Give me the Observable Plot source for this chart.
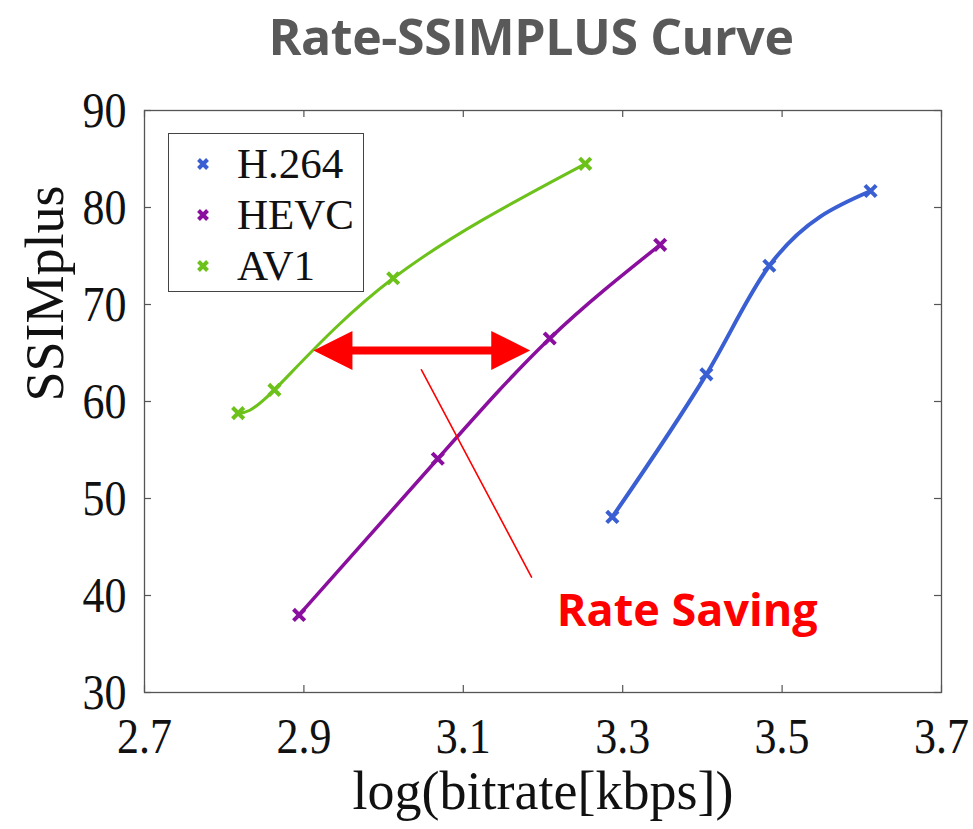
<!DOCTYPE html>
<html>
<head>
<meta charset="utf-8">
<script src="https://cdn.jsdelivr.net/npm/d3@7"></script>
<script src="https://cdn.jsdelivr.net/npm/@observablehq/plot@0.6"></script>
<style>
  body { margin: 0; background: #fff; width: 973px; height: 829px; overflow: hidden; position: relative; }
  #title { height: 75px; line-height: 72px; padding-left: 89px; text-align: center; letter-spacing: -0.4px;
           font-family: "Open Sans", sans-serif; font-weight: 700; font-size: 50px; color: #595959; }
  #legend { position: absolute; left: 168px; top: 133px; width: 196px; height: 159px; box-sizing: border-box;
            border: 1.3px solid #444; background: #fff; padding-top: 4px; }
  .row { position: relative; height: 51px; line-height: 51px; font-family: "Liberation Serif", serif;
         font-size: 43px; color: #111; }
  .row svg { position: absolute; left: 26px; top: 18px; }
  .row span { position: absolute; left: 68px; top: 0; }
</style>
</head>
<body>
<div id="title">Rate-SSIMPLUS Curve</div>
<div id="chart"></div>
<div id="legend"></div>
<script>
// ---- data ----
const codecs = ["H.264", "HEVC", "AV1"];
const codecColors = ["#3a5fd3", "#8a0f9e", "#6cc21a"];
const h264Rate = [3.287, 3.405, 3.484, 3.611];
const h264Ssim = [48.1, 62.8, 74.0, 81.7];
const hevcRate = [2.894, 3.068, 3.2085, 3.347];
const hevcSsim = [38.0, 54.1, 66.5, 76.15];
const av1Rate = [2.8175, 2.863, 3.012, 3.253];
const av1Ssim = [58.8, 61.2, 72.7, 84.5];
const xTicks = [2.7, 2.9, 3.1, 3.3, 3.5, 3.7];
const yTicks = [30, 40, 50, 60, 70, 80, 90];
const xLabel = "log(bitrate[kbps])";
const yLabel = "SSIMplus";
// annotation: double arrow between AV1 and HEVC at equal quality
const arrowLevel = 65.26;
const arrowEnds = [2.912, 3.184];
const pointerX = [3.0475, 3.1856];
const pointerY = [63.27, 41.9];
const noteText = "Rate Saving";
const notePos = [3.381, 38.3];

const rates = [h264Rate, hevcRate, av1Rate];
const ssims = [h264Ssim, hevcSsim, av1Ssim];
const widths = [4, 3.5, 3];
const curves = ["monotone-x", "natural", "natural"];
const series = codecs.flatMap((c, i) => rates[i].map((r, j) => ({codec: c, rate: r, ssim: ssims[i][j]})));

const W = 973, H = 754, mt = 35, mb = 137, ml = 144, mr = 32;
const fw = W - ml - mr, fh = H - mt - mb;
const red = "#ff0000", frameColor = "#555";

const leftHead = {draw(ctx) { ctx.moveTo(0, 0); ctx.lineTo(39, -19.5); ctx.lineTo(39, 19.5); ctx.closePath(); }};
const rightHead = {draw(ctx) { ctx.moveTo(0, 0); ctx.lineTo(-39, -19.5); ctx.lineTo(-39, 19.5); ctx.closePath(); }};

const chart = Plot.plot({
  width: W, height: H,
  marginTop: mt, marginBottom: mb, marginLeft: ml, marginRight: mr,
  style: {fontFamily: "Liberation Serif, serif", background: "white", color: "#111"},
  x: {domain: [2.7, 3.7]},
  y: {domain: [30, 90]},
  color: {domain: codecs, range: codecColors},
  marks: [
    Plot.frame({stroke: frameColor, strokeWidth: 1.3}),
    Plot.tickX(xTicks, {x: d => d, insetTop: fh - 7, stroke: frameColor, strokeWidth: 1.2}),
    Plot.tickX(xTicks, {x: d => d, insetBottom: fh - 7, stroke: frameColor, strokeWidth: 1.2}),
    Plot.tickY(yTicks, {y: d => d, insetRight: fw - 7, stroke: frameColor, strokeWidth: 1.2}),
    Plot.tickY(yTicks, {y: d => d, insetLeft: fw - 7, stroke: frameColor, strokeWidth: 1.2}),
    Plot.axisX(xTicks, {tickSize: 0, tickPadding: 25, fontSize: 44, tickFormat: d => d.toFixed(1), label: null}),
    Plot.axisY(yTicks, {tickSize: 0, tickPadding: 18, fontSize: 44, label: null}),
    Plot.text([xLabel], {text: d => d, frameAnchor: "bottom", dy: 99, fontSize: 54, lineAnchor: "middle", ariaLabel: "xlab"}),
    Plot.text([yLabel], {text: d => d, frameAnchor: "left", dx: -99, rotate: -90, fontSize: 54, lineAnchor: "middle", ariaLabel: "ylab"}),
    ...codecs.map((c, i) => Plot.line(series.filter(d => d.codec === c),
      {x: "rate", y: "ssim", stroke: "codec", strokeWidth: widths[i], curve: curves[i]})),
    Plot.dot(series, {x: "rate", y: "ssim", stroke: "codec", symbol: "times", r: 5.2, strokeWidth: 4}),
    Plot.line(pointerX.map((x, i) => ({x, y: pointerY[i]})), {x: "x", y: "y", stroke: red, strokeWidth: 1.6}),
    Plot.ruleY([arrowLevel], {x1: arrowEnds[0], x2: arrowEnds[1], stroke: red, strokeWidth: 8, insetLeft: 30, insetRight: 30}),
    Plot.dot([arrowEnds[0]], {x: d => d, y: () => arrowLevel, symbol: leftHead, fill: red, stroke: "none"}),
    Plot.dot([arrowEnds[1]], {x: d => d, y: () => arrowLevel, symbol: rightHead, fill: red, stroke: "none"}),
    Plot.text([noteText], {x: () => notePos[0], y: () => notePos[1], text: d => d, fill: red, fontSize: 45,
      fontWeight: 700, fontFamily: "Open Sans, sans-serif", textAnchor: "middle", lineAnchor: "middle"})
  ]
});

function stretch(root, sel, sx, sy) {
  root.querySelectorAll(sel).forEach(t => {
    const tr = t.getAttribute("transform");
    if (tr) t.setAttribute("transform", tr + ` scale(${sx},${sy})`);
    else {
      const x = +t.getAttribute("x") || 0, y = +t.getAttribute("y") || 0;
      t.setAttribute("transform", `translate(${x},${y}) scale(${sx},${sy}) translate(${-x},${-y})`);
    }
  });
}
stretch(chart, 'g[aria-label="x-axis tick label"] text', 1, 1.15);
stretch(chart, 'g[aria-label="y-axis tick label"] text', 1, 1.15);
stretch(chart, 'g[aria-label="xlab"] text', 1, 1.1);
stretch(chart, 'g[aria-label="ylab"] text', 1.13, 1);

document.getElementById("chart").appendChild(chart);

// legend
const legend = document.getElementById("legend");
codecs.forEach((c, i) => {
  const row = document.createElement("div");
  row.className = "row";
  row.innerHTML = `<svg width="16" height="16" viewBox="-8 -8 16 16"><path d="M-4.5,-4.5L4.5,4.5M4.5,-4.5L-4.5,4.5" stroke="${codecColors[i]}" stroke-width="4"/></svg><span>${c}</span>`;
  legend.appendChild(row);
});
</script>
</body>
</html>
